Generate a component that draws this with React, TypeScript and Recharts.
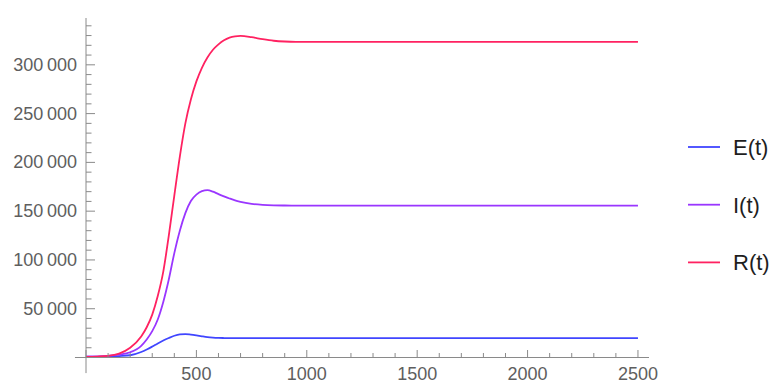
import React from 'react';
import { LineChart, Line, XAxis, YAxis, ReferenceLine, Legend } from 'recharts';

const times = [0, 50, 100, 150, 200, 250, 275, 300, 325, 350, 375, 400, 425, 450, 475, 500, 525, 550, 575, 600, 625, 650, 675, 700, 750, 800, 850, 900, 950, 1000, 1250, 1500, 1750, 2000, 2250, 2500];
const exposed = [500, 700, 1000, 1500, 2300, 5600, 8200, 11200, 14400, 17400, 20000, 22300, 23700, 24000, 23400, 22600, 21700, 20900, 20400, 20100, 19950, 19850, 19800, 19800, 19800, 19800, 19800, 19800, 19800, 19800, 19800, 19800, 19800, 19800, 19800, 19800];
const infected = [1000, 1200, 1700, 2900, 5400, 12000, 18500, 27000, 39000, 57000, 80000, 107000, 130000, 148000, 160500, 167000, 170500, 171500, 170000, 167500, 165200, 163000, 161000, 159500, 157500, 156500, 156000, 155800, 155700, 155700, 155700, 155700, 155700, 155700, 155700, 155700];
const recovered = [500, 900, 1600, 4000, 10000, 21500, 31000, 44000, 63000, 88000, 125000, 166000, 206000, 240000, 264500, 283000, 297000, 307500, 315500, 321000, 325200, 327900, 329200, 329600, 328300, 326300, 324700, 323900, 323600, 323600, 323600, 323600, 323600, 323600, 323600, 323600];

const seriesNames = ['E(t)', 'I(t)', 'R(t)'];
const seriesColors = ['#4046ff', '#9a36ff', '#ff2261'];

const xTicks = [0, 100, 200, 300, 400, 500, 600, 700, 800, 900, 1000, 1100, 1200, 1300, 1400, 1500, 1600, 1700, 1800, 1900, 2000, 2100, 2200, 2300, 2400, 2500];
const xLabels = [500, 1000, 1500, 2000, 2500];
const yTicks = [0, 10000, 20000, 30000, 40000, 50000, 60000, 70000, 80000, 90000, 100000, 110000, 120000, 130000, 140000, 150000, 160000, 170000, 180000, 190000, 200000, 210000, 220000, 230000, 240000, 250000, 260000, 270000, 280000, 290000, 300000, 310000, 320000, 330000, 340000];
const yLabels = [50000, 100000, 150000, 200000, 250000, 300000];

const data = times.map((t, i) => ({ t, E: exposed[i], I: infected[i], R: recovered[i] }));

const AXIS = '#8a8a8a';
const LABEL = '#5e5e5e';
const FONT = '"Liberation Sans", Arial, sans-serif';

const fmt = (v: number) => (v >= 10000 ? String(v).replace(/\B(?=(\d{3})+(?!\d))/g, '\u2009') : String(v));

const XTick = (props: any) => {
  const { x, y, payload } = props;
  const v = payload.value;
  const major = v % 500 === 0;
  return (
    <g>
      <line x1={x} x2={x} y1={y} y2={y - (major ? 7.5 : 4.5)} stroke={AXIS} strokeWidth={1} />
      {xLabels.includes(v) && (
        <text x={x} y={y + 22.5} textAnchor="middle" fontSize={18} fill={LABEL} fontFamily={FONT}>
          {fmt(v)}
        </text>
      )}
    </g>
  );
};

const YTick = (props: any) => {
  const { x, y, payload } = props;
  const v = payload.value;
  const major = v % 50000 === 0;
  return (
    <g>
      <line x1={x} x2={x + (major ? 9 : 5.5)} y1={y} y2={y} stroke={AXIS} strokeWidth={1} />
      {yLabels.includes(v) && (
        <text x={x - 9} y={y} dy={6} textAnchor="end" fontSize={18} fill={LABEL} fontFamily={FONT}>
          {fmt(v)}
        </text>
      )}
    </g>
  );
};

const renderLegend = (props: any) => {
  const { payload } = props;
  return (
    <svg width={86} height={160} style={{ display: 'block', overflow: 'visible' }}>
      {(payload || []).map((p: any, i: number) => (
        <g key={p.value} transform={`translate(0, ${20 + i * 57.7})`}>
          <line x1={0} x2={32} y1={0} y2={0} stroke={p.color} strokeWidth={1.8} />
          <text x={45} y={0} dy="0.36em" fontSize={22} fill="#1e1e1e" fontFamily={FONT}>
            {p.value}
          </text>
        </g>
      ))}
    </svg>
  );
};

export default function App() {
  return (
    <div style={{ padding: 8, width: 766, height: 376, overflow: 'visible' }}>
      <style>{'html{overflow:hidden}body{margin:0}'}</style>
      <LineChart width={766} height={376} data={data} margin={{ top: 10, right: 125, bottom: 0, left: 0 }}>
        <XAxis
          dataKey="t"
          type="number"
          domain={[0, 2550]}
          allowDataOverflow
          ticks={xTicks}
          interval={0}
          tickLine={false}
          tickSize={0}
          tickMargin={0}
          height={26.5}
          axisLine={{ stroke: AXIS, strokeWidth: 1 }}
          tick={<XTick />}
        />
        <YAxis
          type="number"
          domain={[0, 348000]}
          allowDataOverflow
          ticks={yTicks}
          interval={0}
          tickLine={false}
          tickSize={0}
          tickMargin={0}
          width={78}
          axisLine={{ stroke: AXIS, strokeWidth: 1 }}
          tick={<YTick />}
        />
        <ReferenceLine segment={[{ x: -50, y: 0 }, { x: 0, y: 0 }]} ifOverflow="visible" stroke={AXIS} strokeWidth={1} />
        <ReferenceLine segment={[{ x: 0, y: 0 }, { x: 0, y: -16000 }]} ifOverflow="visible" stroke={AXIS} strokeWidth={1} />
        <Legend
          layout="vertical"
          align="center"
          verticalAlign="middle"
          content={renderLegend}
          wrapperStyle={{ left: 680, top: 118.7, width: 86, height: 160 }}
        />
        <Line type="monotone" dataKey="E" name={seriesNames[0]} stroke={seriesColors[0]} strokeWidth={1.8} dot={false} isAnimationActive={false} />
        <Line type="monotone" dataKey="I" name={seriesNames[1]} stroke={seriesColors[1]} strokeWidth={1.8} dot={false} isAnimationActive={false} />
        <Line type="monotone" dataKey="R" name={seriesNames[2]} stroke={seriesColors[2]} strokeWidth={1.8} dot={false} isAnimationActive={false} />
      </LineChart>
    </div>
  );
}
